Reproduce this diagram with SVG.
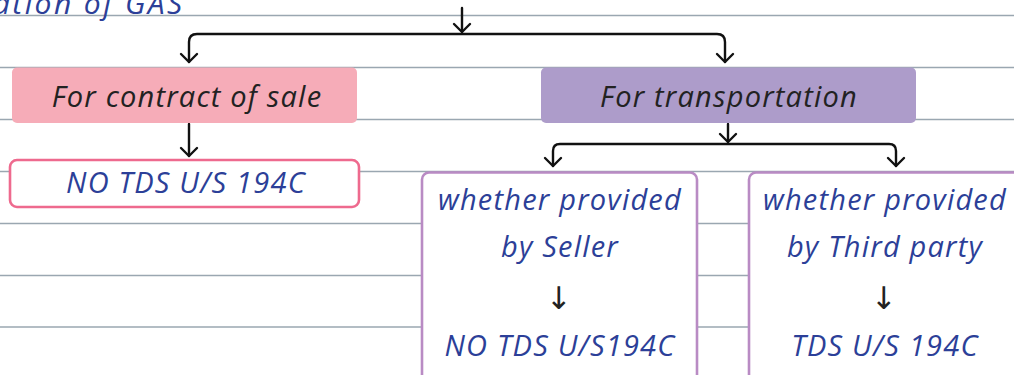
<svg xmlns="http://www.w3.org/2000/svg" width="1014" height="375" viewBox="0 0 1014 375">
  <defs>
    <style>
      .rule { stroke: #9aa7b1; stroke-width: 1.3; }
      .conn { fill: none; stroke: #111; stroke-width: 2.4; stroke-linejoin: round; stroke-linecap: round; }
      .t { font-family: "Open Sans", "Noto Sans", sans-serif; font-style: italic; font-size: 29px; letter-spacing: 1.2px; text-anchor: middle; }
      .dark { fill: #222; }
      .blue { fill: #2c3f98; }
      .arrow { font-family: "DejaVu Sans", sans-serif; font-size: 31px; fill: #222; text-anchor: middle; }
    </style>
  </defs>

  <rect width="1014" height="375" fill="#ffffff"/>

  <!-- ruled paper lines -->
  <g id="rules">
    <line class="rule" x1="0" y1="15.5" x2="1014" y2="15.5"/>
    <line class="rule" x1="0" y1="67.5" x2="1014" y2="67.5"/>
    <line class="rule" x1="0" y1="119.5" x2="1014" y2="119.5"/>
    <line class="rule" x1="0" y1="171.5" x2="1014" y2="171.5"/>
    <line class="rule" x1="0" y1="223.5" x2="1014" y2="223.5"/>
    <line class="rule" x1="0" y1="275.5" x2="1014" y2="275.5"/>
    <line class="rule" x1="0" y1="327" x2="1014" y2="327"/>
  </g>

  <!-- heading, partly above the top edge -->
  <text x="-7" y="14" class="t blue" style="text-anchor:start;font-size:30px;letter-spacing:2.4px">ation of GAS</text>

  <g id="connectors">
    <!-- top split -->
    <path class="conn" d="M462 8 V32"/>
    <path class="conn" d="M454 24 L462 32 L470 24"/>
    <path class="conn" d="M189 62 V42 Q189 34 197 34 H717 Q725 34 725 42 V62"/>
    <path class="conn" d="M181 54 L189 62 L197 54"/>
    <path class="conn" d="M717 54 L725 62 L733 54"/>
    <!-- sale to result -->
    <path class="conn" d="M189 124 V156"/>
    <path class="conn" d="M181 148 L189 156 L197 148"/>
    <!-- transportation split -->
    <path class="conn" d="M728 124 V142"/>
    <path class="conn" d="M720 134 L728 142 L736 134"/>
    <path class="conn" d="M553 166 V151 Q553 144 560 144 H889 Q896 144 896 151 V166"/>
    <path class="conn" d="M545 158 L553 166 L561 158"/>
    <path class="conn" d="M888 158 L896 166 L904 158"/>
  </g>

  <g id="node-sale">
    <rect x="12" y="67.5" width="345" height="55.5" rx="5" fill="#f6acb8"/>
    <text x="187" y="107" class="t dark">For contract of sale</text>
  </g>

  <g id="node-transport">
    <rect x="541" y="67.5" width="375" height="55.5" rx="5" fill="#ad9cca"/>
    <text x="729" y="107" class="t dark">For transportation</text>
  </g>

  <g id="node-sale-result">
    <rect x="10" y="160" width="349" height="47" rx="7" fill="#fff" stroke="#ee6a8e" stroke-width="2.6"/>
    <text x="186" y="193" class="t blue">NO TDS U/S 194C</text>
  </g>

  <g id="node-seller">
    <rect x="422" y="172.5" width="275" height="220" rx="7" fill="#fff" stroke="#b98bc4" stroke-width="2.6"/>
    <text x="560" y="210" class="t blue">whether provided</text>
    <text x="560" y="257" class="t blue">by Seller</text>
    <text x="559" y="309" class="arrow">↓</text>
    <text x="560" y="356" class="t blue">NO TDS U/S194C</text>
  </g>

  <g id="node-third-party">
    <rect x="749" y="172.5" width="280" height="220" rx="7" fill="#fff" stroke="#b98bc4" stroke-width="2.6"/>
    <text x="885" y="210" class="t blue">whether provided</text>
    <text x="885" y="257" class="t blue">by Third party</text>
    <text x="884" y="309" class="arrow">↓</text>
    <text x="885" y="356" class="t blue">TDS U/S 194C</text>
  </g>
</svg>
